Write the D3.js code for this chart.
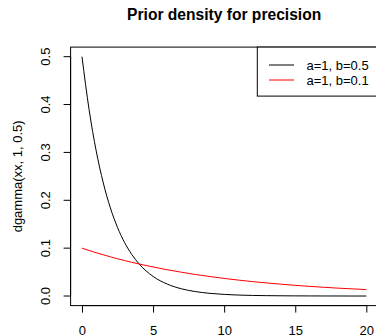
<!DOCTYPE html>
<html>
<head>
<meta charset="utf-8">
<script src="https://cdn.jsdelivr.net/npm/d3@7"></script>
<style>
  body { margin: 0; background: #fff; }
  svg text { font-family: "Liberation Sans", Arial, sans-serif; }
</style>
</head>
<body>
<script>
var width = 376, height = 335;

// values
var xx = [0, 0.5, 1, 1.5, 2, 2.5, 3, 3.5, 4, 5, 6, 7, 8, 9, 10, 11, 12, 13, 14, 15, 16, 17, 18, 19, 20];
var densB05 = [0.5, 0.3894, 0.3033, 0.2362, 0.1839, 0.1433, 0.1116, 0.0869, 0.0677, 0.0410, 0.0249, 0.0151,
               0.0092, 0.0056, 0.0034, 0.0020, 0.0012, 0.0008, 0.0005, 0.0003, 0.0002, 0.0001, 0.0001, 0.0000, 0.0000];
var densB01 = [0.1, 0.0951, 0.0905, 0.0861, 0.0819, 0.0779, 0.0741, 0.0705, 0.0670, 0.0607, 0.0549, 0.0497,
               0.0449, 0.0407, 0.0368, 0.0333, 0.0301, 0.0273, 0.0247, 0.0223, 0.0202, 0.0183, 0.0165, 0.0150, 0.0135];
var xTicks = [0, 5, 10, 15, 20];
var yTicks = [0.0, 0.1, 0.2, 0.3, 0.4, 0.5];
var legendLabels = ["a=1, b=0.5", "a=1, b=0.1"];
var legendColors = ["black", "red"];

var plotLeft = 70.6, plotRight = 377.7, plotTop = 47.1, plotBottom = 305.6;

// R style 4% padding
var xScale = d3.scaleLinear()
    .domain([-0.8, 20.8])
    .range([plotLeft, plotRight]);

var yScale = d3.scaleLinear()
    .domain([-0.02, 0.52])
    .range([plotBottom, plotTop]);

var svg = d3.select('body')
    .append('svg')
    .attr('width', width)
    .attr('height', height);

// title
svg.append('text')
    .attr('x', (plotLeft + plotRight) / 2)
    .attr('y', 20)
    .attr('text-anchor', 'middle')
    .style('font-size', '15.6px')
    .style('font-weight', 'bold')
    .text('Prior density for precision');

// curves
var line = d3.line()
    .x(function(d) { return xScale(d[0]) })
    .y(function(d) { return yScale(d[1]) })
    .curve(d3.curveMonotoneX);

svg.append('path')
    .datum(d3.zip(xx, densB05))
    .attr('d', line)
    .attr('fill', 'none')
    .attr('stroke', 'black')
    .attr('stroke-width', 1);

svg.append('path')
    .datum(d3.zip(xx, densB01))
    .attr('d', line)
    .attr('fill', 'none')
    .attr('stroke', 'red')
    .attr('stroke-width', 1);

// box
svg.append('rect')
    .attr('x', plotLeft)
    .attr('y', plotTop)
    .attr('width', plotRight - plotLeft)
    .attr('height', plotBottom - plotTop)
    .attr('fill', 'none')
    .attr('stroke', 'black');

// x axis
var xAxis = svg.append('g')
    .attr('transform', 'translate(0,' + plotBottom + ')')
    .call(d3.axisBottom(xScale).tickValues(xTicks).tickSize(7).tickPadding(13).tickFormat(d3.format('d')));
xAxis.select('.domain')
    .attr('d', 'M' + xScale(0) + ',0H' + xScale(20));
xAxis.selectAll('text')
    .style('font-size', '13px')
    .style('font-family', '"Liberation Sans", Arial, sans-serif');

// y axis, labels rotated like R
var yAxis = svg.append('g')
    .attr('transform', 'translate(' + plotLeft + ',0)')
    .call(d3.axisLeft(yScale).tickValues(yTicks).tickSize(7).tickFormat(d3.format('.1f')));
yAxis.select('.domain')
    .attr('d', 'M0,' + yScale(0) + 'V' + yScale(0.5));
yAxis.selectAll('text')
    .attr('x', null)
    .attr('dy', null)
    .attr('text-anchor', 'middle')
    .attr('transform', function(d) { return 'translate(-25,' + yScale(d) + ') rotate(-90)' })
    .attr('y', 0)
    .attr('dominant-baseline', 'central')
    .style('font-size', '13px')
    .style('font-family', '"Liberation Sans", Arial, sans-serif');
yAxis.selectAll('.tick')
    .attr('transform', null);
yAxis.selectAll('.tick line')
    .attr('y1', function(d) { return yScale(d) })
    .attr('y2', function(d) { return yScale(d) });

// y label
svg.append('text')
    .attr('transform', 'translate(17,' + (plotTop + plotBottom) / 2 + ') rotate(-90)')
    .attr('text-anchor', 'middle')
    .attr('dominant-baseline', 'central')
    .style('font-size', '13px')
    .text('dgamma(xx, 1, 0.5)');

// legend
var legX = 257.3, legY = plotTop, legW = plotRight - legX, legH = 49;
svg.append('rect')
    .attr('x', legX)
    .attr('y', legY)
    .attr('width', legW)
    .attr('height', legH)
    .attr('fill', 'white')
    .attr('stroke', 'black');

var leg = svg.selectAll('.leg')
    .data(legendLabels)
    .enter()
    .append('g')
    .attr('class', 'leg')
    .attr('transform', function(d, i) { return 'translate(0,' + (65 + i * 15) + ')' });

leg.append('line')
    .attr('x1', 269).attr('x2', 294)
    .attr('y1', 0).attr('y2', 0)
    .attr('stroke', function(d, i) { return legendColors[i] });

leg.append('text')
    .attr('x', 306.5)
    .attr('y', 0)
    .attr('dominant-baseline', 'central')
    .style('font-size', '13px')
    .text(function(d) { return d });
</script>
</body>
</html>
